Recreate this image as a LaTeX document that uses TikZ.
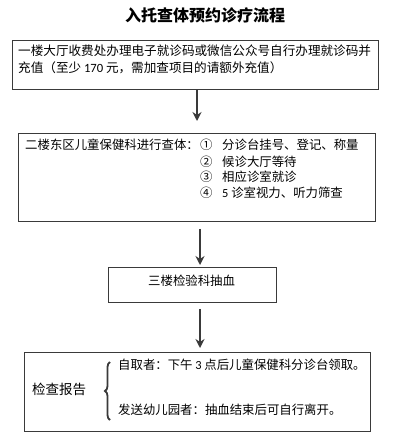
\documentclass[tikz,border=0pt]{standalone}
\usepackage{fontspec}
\setmainfont{Noto Sans CJK SC}
\newfontfamily\lat{Carlito}
\usetikzlibrary{arrows.meta,decorations.pathreplacing}
\definecolor{lc}{HTML}{3A3A3A}
\begin{document}
\begin{tikzpicture}[x=1pt,y=-1pt,
  box/.style={draw=lc, line width=0.9pt, anchor=north west, inner sep=0pt},
  txt/.style={anchor=west, inner sep=0pt, font=\fontsize{12.4}{14}\selectfont},
  wide/.style={font=\fontsize{12.6}{14}\selectfont},
  flow/.style={draw=lc, line width=2pt, -{Stealth[length=9pt,width=9pt]}}]
\useasboundingbox (0,0) rectangle (395,441);
% title
\node[inner sep=0pt, font=\fontsize{16}{18}\selectfont\bfseries] (title) at (205,15) {入托查体预约诊疗流程};
% box 1
\node[box, minimum width=366pt, minimum height=49pt] (b1) at (12,40) {};
\node[txt, wide] (t1a) at (18,51) {一楼大厅收费处办理电子就诊码或微信公众号自行办理就诊码并};
\node[txt, wide] (t1b) at (18,68) {充值（至少 {\lat 170} 元，需加查项目的请额外充值）};
% box 2
\node[box, minimum width=357pt, minimum height=88pt] (b2) at (18,133) {};
\node[txt] (t2) at (25,145) {二楼东区儿童保健科进行查体：};
\node[txt] (n1) at (200,145) {①};
\node[txt] (n2) at (200,162) {②};
\node[txt] (n3) at (200,177) {③};
\node[txt] (n4) at (200,193) {④};
\node[txt] (s1) at (222,145) {分诊台挂号、登记、称量};
\node[txt] (s2) at (222,162) {候诊大厅等待};
\node[txt] (s3) at (222,177) {相应诊室就诊};
\node[txt] (s4) at (222,193) {{\lat 5} 诊室视力、听力筛查};
% box 3
\node[box, minimum width=168pt, minimum height=35pt] (b3) at (108,267) {};
\node[txt] (t3) at (148,281) {三楼检验科抽血};
% box 4
\node[box, minimum width=346pt, minimum height=79pt] (b4) at (24,352) {};
\node[txt, font=\fontsize{13.5}{15}\selectfont] (t4) at (32,389) {检查报告};
\node[txt] (r1) at (118,365) {自取者：下午 {\lat 3} 点后儿童保健科分诊台领取。};
\node[txt] (r2) at (118,410) {发送幼儿园者：抽血结束后可自行离开。};
\coordinate (bt) at (110,362);
\coordinate (bb) at (110,420);
\draw[lc, line width=1.8pt, decorate, decoration={brace, amplitude=5pt}] (bb) -- (bt);
% arrows
\coordinate (c1) at (197,0);
\coordinate (c2) at (200,0);
\draw[flow, shorten >=12pt] (b1.south -| c1) -- (b2.north -| c1);
\draw[flow, shorten <=7pt, shorten >=2pt] (b2.south -| c2) -- (b3.north -| c2);
\draw[flow, shorten <=6pt, shorten >=4pt] (b3.south -| c2) -- (b4.north -| c2);
\end{tikzpicture}
\end{document}
